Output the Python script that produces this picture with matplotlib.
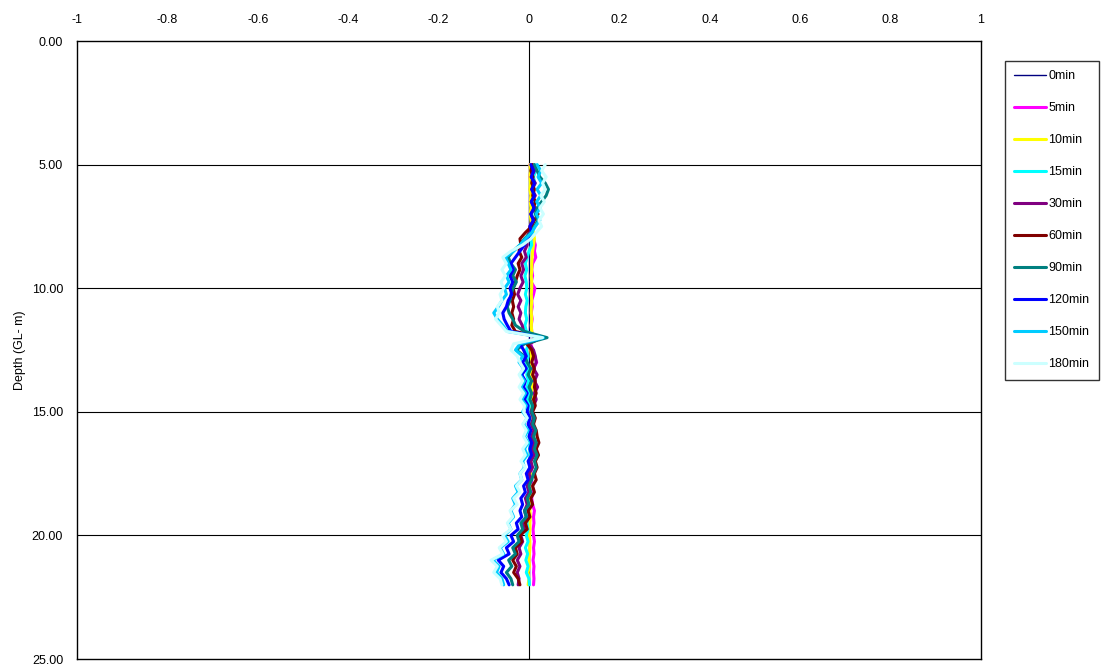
import matplotlib
matplotlib.use("Agg")
import matplotlib.pyplot as plt
import numpy as np

plt.rcParams['font.family'] = ['Liberation Sans', 'DejaVu Sans']

# depth from 5.00 to 22.00 m every 0.25 m
depth = [5.00, 5.25, 5.50, 5.75, 6.00, 6.25, 6.50, 6.75, 7.00, 7.25, 7.50, 7.75,
         8.00, 8.25, 8.50, 8.75, 9.00, 9.25, 9.50, 9.75, 10.00, 10.25, 10.50, 10.75,
         11.00, 11.25, 11.50, 11.75, 12.00, 12.25, 12.50, 12.75, 13.00, 13.25, 13.50, 13.75,
         14.00, 14.25, 14.50, 14.75, 15.00, 15.25, 15.50, 15.75, 16.00, 16.25, 16.50, 16.75,
         17.00, 17.25, 17.50, 17.75, 18.00, 18.25, 18.50, 18.75, 19.00, 19.25, 19.50, 19.75,
         20.00, 20.25, 20.50, 20.75, 21.00, 21.25, 21.50, 21.75, 22.00]

labels = ["0min", "5min", "10min", "15min", "30min", "60min", "90min",
          "120min", "150min", "180min"]
colors = ["#000080", "#FF00FF", "#FFFF00", "#00FFFF", "#800080", "#800000",
          "#008080", "#0000FF", "#00CCFF", "#CCFFFF"]

s0 = [0.0] * 69
s5 = [0.002, 0.004, 0.002, 0.005, 0.003, 0.005, 0.003, 0.006, 0.004, 0.006, 0.004, 0.007,
      0.010, 0.014, 0.012, 0.015, 0.008, 0.006, 0.008, 0.005, 0.013, 0.010, 0.006, 0.007,
      0.005, 0.007, 0.005, 0.006, 0.010, 0.004, 0.008, 0.012, 0.017, 0.010, 0.008, 0.010,
      0.006, 0.008, 0.005, 0.007, 0.004, 0.006, 0.004, 0.006, 0.005, 0.007, 0.005, 0.007,
      0.004, 0.006, 0.004, 0.006, 0.005, 0.007, 0.006, 0.008, 0.012, 0.010, 0.011, 0.009,
      0.010, 0.012, 0.010, 0.011, 0.009, 0.011, 0.010, 0.011, 0.010]
s10 = [0.002, 0.003, 0.002, 0.003, 0.002, 0.004, 0.003, 0.004, 0.003, 0.004, 0.006, 0.010,
       0.012, 0.010, 0.008, 0.007, 0.006, 0.006, 0.005, 0.006, 0.006, 0.005, 0.006, 0.005,
       0.005, 0.006, 0.005, 0.006, 0.012, 0.002, 0.004, 0.005, 0.006, 0.005, 0.006, 0.008,
       0.007, 0.006, 0.005, 0.004, 0.003, 0.004, 0.003, 0.004, 0.004, 0.005, 0.004, 0.005,
       0.004, 0.003, 0.003, 0.002, 0.002, 0.003, 0.002, 0.003, 0.002, 0.003, 0.002, 0.002,
       0.001, 0.002, 0.002, 0.001, 0.000, 0.001, -0.002, 0.000, -0.002]
s15 = [0.012, 0.014, 0.010, 0.013, 0.008, 0.012, 0.007, 0.011, 0.006, 0.010, 0.005, 0.008,
       0.004, 0.006, 0.000, -0.004, -0.008, -0.005, -0.009, -0.006, -0.005, -0.008, -0.004, -0.007,
       -0.008, -0.005, -0.009, -0.006, 0.025, 0.000, -0.006, -0.002, -0.006, -0.002, -0.005, -0.001,
       -0.004, 0.000, -0.003, 0.001, -0.002, 0.002, -0.001, 0.003, 0.000, 0.004, 0.001, 0.004,
       0.000, 0.002, -0.002, 0.001, -0.003, 0.000, -0.004, -0.001, -0.004, -0.001, -0.005, -0.002,
       -0.006, -0.002, -0.008, -0.003, -0.007, -0.002, -0.006, 0.000, 0.001]
s30 = [0.006, 0.012, 0.005, 0.014, 0.006, 0.014, 0.005, 0.013, 0.004, 0.010, 0.002, 0.000,
       -0.006, -0.004, -0.010, -0.006, -0.016, -0.012, -0.018, -0.013, -0.020, -0.025, -0.018, -0.024,
       -0.018, -0.022, -0.015, -0.012, 0.028, 0.000, 0.010, 0.014, 0.016, 0.010, 0.018, 0.012,
       0.019, 0.012, 0.016, 0.010, 0.004, 0.010, 0.005, 0.011, 0.006, 0.012, 0.007, 0.012,
       0.004, 0.008, 0.000, 0.004, -0.004, 0.000, -0.008, -0.004, -0.010, -0.006, -0.014, -0.010,
       -0.018, -0.014, -0.022, -0.018, -0.026, -0.020, -0.026, -0.022, -0.024]
s60 = [0.008, 0.004, 0.009, 0.006, 0.012, 0.008, 0.014, 0.010, 0.020, 0.012, 0.006, -0.008,
       -0.020, -0.018, -0.022, -0.016, -0.024, -0.020, -0.026, -0.030, -0.035, -0.032, -0.037, -0.034,
       -0.038, -0.034, -0.038, -0.030, 0.030, -0.005, 0.006, 0.010, 0.006, 0.012, 0.008, 0.014,
       0.012, 0.016, 0.010, 0.014, 0.008, 0.014, 0.010, 0.016, 0.018, 0.022, 0.016, 0.021,
       0.014, 0.018, 0.012, 0.016, 0.008, 0.012, 0.004, 0.008, -0.002, 0.002, -0.008, -0.004,
       -0.020, -0.016, -0.030, -0.026, -0.036, -0.028, -0.034, -0.024, -0.020]
s90 = [0.012, 0.018, 0.024, 0.036, 0.043, 0.038, 0.028, 0.018, 0.014, 0.020, 0.012, 0.004,
       -0.010, -0.020, -0.035, -0.046, -0.040, -0.030, -0.036, -0.028, -0.035, -0.040, -0.042, -0.048,
       -0.044, -0.036, -0.030, -0.010, 0.040, -0.010, -0.028, -0.010, -0.004, 0.004, -0.002, 0.006,
       0.000, 0.006, 0.002, 0.008, 0.006, 0.012, 0.008, 0.015, 0.010, 0.016, 0.012, 0.018,
       0.012, 0.016, 0.010, 0.006, 0.000, 0.004, -0.004, 0.000, -0.010, -0.006, -0.018, -0.014,
       -0.026, -0.022, -0.036, -0.030, -0.045, -0.038, -0.050, -0.040, -0.036]
s120 = [0.004, 0.010, 0.005, 0.012, 0.006, 0.012, 0.005, 0.011, 0.004, 0.010, 0.002, 0.006,
        -0.004, -0.010, -0.020, -0.030, -0.040, -0.035, -0.042, -0.036, -0.042, -0.038, -0.046, -0.050,
        -0.058, -0.055, -0.048, -0.040, 0.030, -0.020, -0.012, -0.006, -0.014, -0.006, -0.016, -0.008,
        -0.012, -0.004, -0.010, -0.002, -0.004, 0.002, -0.002, 0.004, 0.000, 0.006, 0.002, 0.006,
        -0.002, 0.002, -0.006, -0.002, -0.012, -0.008, -0.018, -0.014, -0.020, -0.016, -0.028, -0.024,
        -0.040, -0.034, -0.050, -0.044, -0.068, -0.056, -0.062, -0.050, -0.044]
s150 = [0.018, 0.026, 0.020, 0.028, 0.018, 0.026, 0.017, 0.025, 0.016, 0.024, 0.014, 0.006,
        -0.008, -0.020, -0.034, -0.052, -0.046, -0.040, -0.050, -0.044, -0.054, -0.050, -0.060, -0.068,
        -0.078, -0.070, -0.058, -0.048, 0.032, -0.020, -0.030, -0.014, -0.022, -0.012, -0.020, -0.010,
        -0.018, -0.008, -0.016, -0.006, -0.014, -0.004, -0.012, -0.002, -0.010, -0.002, -0.010, -0.004,
        -0.014, -0.010, -0.020, -0.016, -0.030, -0.024, -0.036, -0.030, -0.040, -0.034, -0.046, -0.040,
        -0.054, -0.046, -0.064, -0.056, -0.080, -0.066, -0.072, -0.060, -0.056]
s180 = [0.036, 0.028, 0.038, 0.030, 0.036, 0.026, 0.034, 0.024, 0.032, 0.022, 0.028, 0.016,
        0.004, -0.014, -0.040, -0.058, -0.050, -0.060, -0.052, -0.062, -0.056, -0.064, -0.060, -0.070,
        -0.066, -0.074, -0.062, -0.050, 0.030, -0.034, -0.040, -0.026, -0.020, -0.012, -0.022, -0.014,
        -0.022, -0.012, -0.020, -0.010, -0.012, -0.004, -0.014, -0.006, -0.012, -0.004, -0.014, -0.008,
        -0.018, -0.008, -0.020, -0.016, -0.028, -0.020, -0.034, -0.026, -0.042, -0.036, -0.048, -0.040,
        -0.058, -0.050, -0.066, -0.058, -0.084, -0.070, -0.078, -0.064, -0.060]

series = [s0, s5, s10, s15, s30, s60, s90, s120, s150, s180]

y_ticks = [0, 5, 10, 15, 20, 25]
y_ticklabels = ["0.00", "5.00", "10.00", "15.00", "20.00", "25.00"]
x_ticks = [-1, -0.8, -0.6, -0.4, -0.2, 0, 0.2, 0.4, 0.6, 0.8, 1]
x_ticklabels = ["-1", "-0.8", "-0.6", "-0.4", "-0.2", "0", "0.2", "0.4", "0.6", "0.8", "1"]

fig = plt.figure(figsize=(11.03, 6.65), dpi=100)
ax = fig.add_axes([77 / 1103, 1 - 659 / 665, (981 - 77) / 1103, (659 - 41) / 665])

for ylev in [5, 10, 15, 20]:
    ax.axhline(ylev, color="black", lw=0.8, zorder=1)
ax.axvline(0, color="black", lw=0.8, zorder=1)

for i, (vals, lab, col) in enumerate(zip(series, labels, colors)):
    lw = 1.0 if i == 0 else 2.2
    ax.plot(vals, depth, color=col, lw=lw, label=lab, zorder=2 + i,
            solid_joinstyle="round", solid_capstyle="round")

ax.set_xlim(-1, 1)
ax.set_ylim(25, 0)
ax.set_xticks(x_ticks)
ax.set_xticklabels(x_ticklabels)
ax.set_yticks(y_ticks)
ax.set_yticklabels(y_ticklabels)
ax.xaxis.tick_top()
ax.tick_params(axis="both", length=0, labelsize=9)
ax.tick_params(axis="y", pad=10)
ax.tick_params(axis="x", pad=11)
for sp in ax.spines.values():
    sp.set_color("black")
    sp.set_linewidth(1.0)
ax.set_ylabel("Depth (GL- m)", fontsize=9, labelpad=4)

leg = fig.legend(loc="upper left", bbox_to_anchor=(1005 / 1103, 1 - 61 / 665),
                 frameon=True, fancybox=False, edgecolor="black", fontsize=9,
                 handlelength=2.5, handletextpad=0.2, labelspacing=1.6,
                 borderpad=0.75, borderaxespad=0)
leg.get_frame().set_linewidth(1.0)

fig.savefig("out.png", dpi=100)
